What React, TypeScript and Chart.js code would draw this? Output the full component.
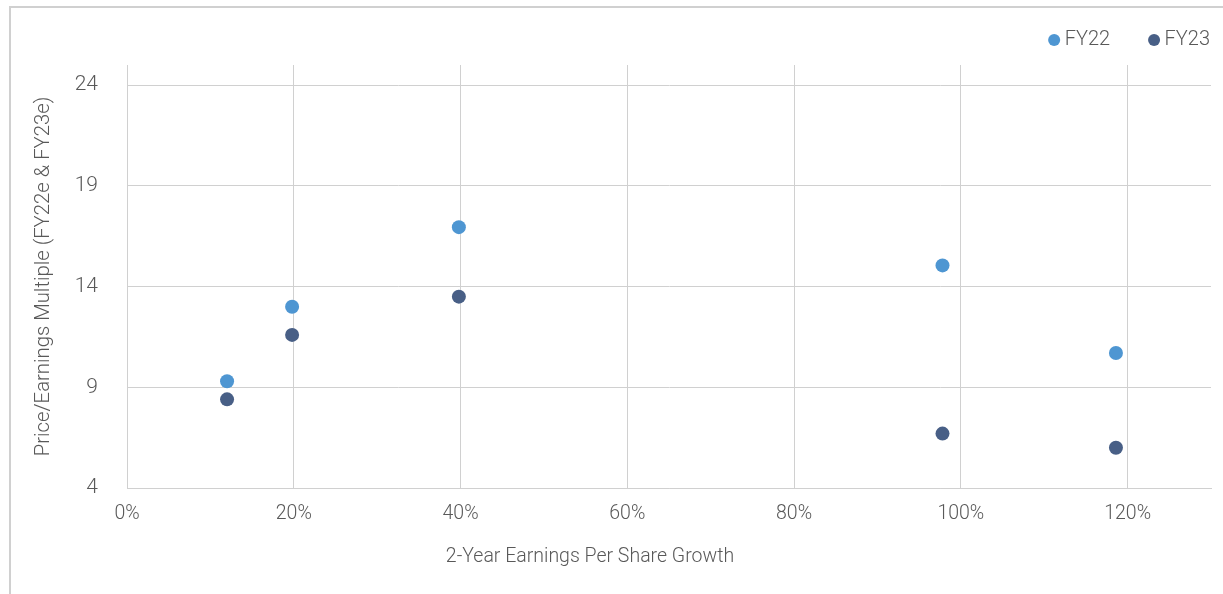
import React, { useEffect, useRef } from "react";
import { Chart, registerables } from "chart.js";

Chart.register(...registerables);

const SERIES_NAMES = ["FY22", "FY23"];
const GROWTH_X = [12, 19.8, 39.8, 97.8, 118.6];
const FY22_PE = [9.3, 13.0, 16.95, 15.05, 10.7];
const FY23_PE = [8.4, 11.6, 13.5, 6.7, 6.0];
const X_TICKS = [0, 20, 40, 60, 80, 100, 120];
const Y_TICKS = [4, 9, 14, 19, 24];
const X_TITLE = "2-Year Earnings Per Share Growth";
const Y_TITLE = "Price/Earnings Multiple (FY22e & FY23e)";

const COLORS = ["#4E96D2", "#485F86"];
const FONT = "Roboto, 'Open Sans', sans-serif";
const WEIGHT = "300";
const TEXT_COLOR = "#595959";

export default function App() {
  const ref = useRef<HTMLCanvasElement | null>(null);

  useEffect(() => {
    if (!ref.current) return;

    const legendFix = {
      id: "legendFix",
      beforeInit(chart: any) {
        const lg = chart.legend;
        if (!lg) return;
        const orig = lg.fit;
        lg.fit = function () {
          orig.call(this);
          this.height = 65;
        };
      },
      afterLayout(chart: any) {
        const lg = chart.legend;
        if (!lg) return;
        lg.top = -13.5;
        lg.right = chart.width + 30.5;
      },
    };

    const xTitlePlugin = {
      id: "xTitle",
      afterDraw(chart: any) {
        const ctx = chart.ctx;
        ctx.save();
        ctx.font = `${WEIGHT} 19.5px ${FONT}`;
        ctx.fillStyle = TEXT_COLOR;
        ctx.textAlign = "center";
        ctx.textBaseline = "middle";
        ctx.fillText(X_TITLE, 590, 557);
        ctx.restore();
      },
    };

    const chart = new Chart(ref.current, {
      type: "scatter",
      data: {
        datasets: [
          {
            label: SERIES_NAMES[0],
            data: GROWTH_X.map((x, i) => ({ x, y: FY22_PE[i] })),
            backgroundColor: COLORS[0],
            borderColor: COLORS[0],
            borderWidth: 0,
            pointRadius: 7,
            pointHoverRadius: 7,
          },
          {
            label: SERIES_NAMES[1],
            data: GROWTH_X.map((x, i) => ({ x, y: FY23_PE[i] })),
            backgroundColor: COLORS[1],
            borderColor: COLORS[1],
            borderWidth: 0,
            pointRadius: 7,
            pointHoverRadius: 7,
          },
        ],
      },
      options: {
        animation: false,
        responsive: false,
        maintainAspectRatio: false,
        layout: { padding: { left: 0, right: 12, top: 0, bottom: 0 } },
        plugins: {
          tooltip: { enabled: false },
          title: { display: false },
          legend: {
            display: true,
            position: "top",
            align: "end",
            labels: {
              usePointStyle: true,
              pointStyle: "circle",
              boxWidth: 1,
              boxHeight: 8.5,
              padding: 43.5,
              color: TEXT_COLOR,
              font: { family: FONT, size: 20, weight: WEIGHT },
            },
          },
        },
        scales: {
          x: {
            type: "linear",
            min: 0,
            max: 130,
            afterBuildTicks: (s: any) => {
              s.ticks = X_TICKS.map((v) => ({ value: v }));
            },
            afterFit: (s: any) => {
              s.height = 106;
            },
            grid: { color: "#d0d0d0", lineWidth: 1, drawTicks: false },
            border: { color: "#d0d0d0", width: 1 },
            ticks: {
              padding: 14,
              color: TEXT_COLOR,
              font: { family: FONT, size: 19.5, weight: WEIGHT },
              callback: (v: any) => `${v}%`,
            },
            title: { display: false, text: X_TITLE },
          },
          y: {
            type: "linear",
            min: 4,
            max: 25,
            afterBuildTicks: (s: any) => {
              s.ticks = Y_TICKS.map((v) => ({ value: v }));
            },
            afterFit: (s: any) => {
              s.width = 127;
            },
            grid: { color: "#d0d0d0", lineWidth: 1, drawTicks: false },
            border: { color: "#d0d0d0", width: 1 },
            ticks: {
              padding: 29,
              color: TEXT_COLOR,
              font: { family: FONT, size: 21, weight: WEIGHT },
            },
            title: {
              display: true,
              text: Y_TITLE,
              color: TEXT_COLOR,
              font: { family: FONT, size: 20.3, weight: WEIGHT },
              padding: { top: 32, bottom: 0 },
            },
          },
        },
      },
      plugins: [legendFix, xTitlePlugin],
    });

    return () => chart.destroy();
  }, []);

  return (
    <div
      style={{
        position: "fixed",
        left: 0,
        top: 0,
        width: 1223,
        height: 594,
        overflow: "hidden",
        background: "#ffffff",
      }}
    >
      <div
        style={{
          position: "absolute",
          left: 9,
          top: 6,
          width: 1300,
          height: 700,
          borderTop: "2px solid #d0d0d0",
          borderLeft: "2px solid #d0d0d0",
        }}
      />
      <canvas
        ref={ref}
        width={1223}
        height={594}
        style={{ position: "absolute", left: 0, top: 0, width: 1223, height: 594 }}
      />
    </div>
  );
}
